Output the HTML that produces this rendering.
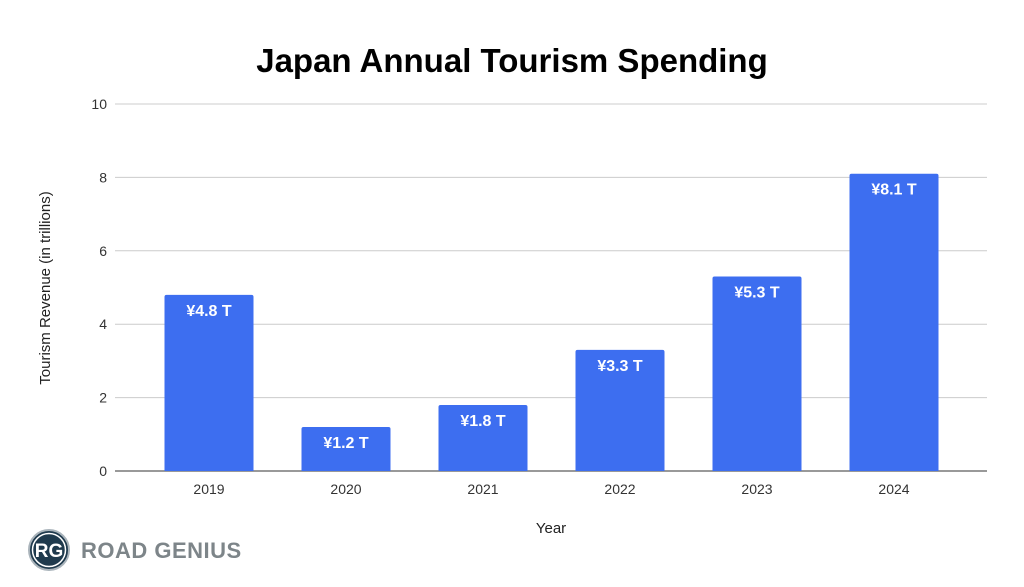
<!DOCTYPE html>
<html><head><meta charset="utf-8"><style>
body{margin:0;background:#fff;width:1024px;height:582px;overflow:hidden;font-family:"Liberation Sans",sans-serif}
</style></head><body>
<svg width="1024" height="582" xmlns="http://www.w3.org/2000/svg">
<text x="512" y="72" text-anchor="middle" font-size="33" font-weight="bold" fill="#000">Japan Annual Tourism Spending</text>
<g id="grid"></g>
<g id="bars"></g>
<text transform="translate(50,288) rotate(-90)" text-anchor="middle" font-size="15" fill="#222">Tourism Revenue (in trillions)</text>
<text x="551" y="533" text-anchor="middle" font-size="15" fill="#222">Year</text>
<g>
<circle cx="49" cy="550" r="20" fill="#1f3a4d" stroke="#aab4bb" stroke-width="2"/>
<circle cx="49" cy="550" r="16.5" fill="none" stroke="#fff" stroke-width="1.5"/>
<text x="49" y="557" text-anchor="middle" font-size="19" font-weight="bold" fill="#fff">RG</text>
<text x="81" y="558" font-size="22" font-weight="bold" fill="#7d8589" letter-spacing="0.5">ROAD GENIUS</text>
</g>
</svg>
<script>
const categories=["2019","2020","2021","2022","2023","2024"];
const values=[4.8,1.2,1.8,3.3,5.3,8.1];
const valueLabels=["¥4.8 T","¥1.2 T","¥1.8 T","¥3.3 T","¥5.3 T","¥8.1 T"];
const yTicks=[0,2,4,6,8,10];
const NS="http://www.w3.org/2000/svg";
const y0=471,y1=104,yMax=10,bandL=140.5,bandW=137,barW=89;
const yScale=v=>y0-(y0-y1)*v/yMax;
const xCenter=i=>bandL+bandW*(i+0.5);
function mk(t,a,p){const e=document.createElementNS(NS,t);for(const k in a)e.setAttribute(k,a[k]);p.appendChild(e);return e;}
const grid=document.getElementById('grid');
yTicks.forEach(t=>{const y=yScale(t);
const l=mk('line',{x1:115,x2:987,y1:y,y2:y,stroke:t===0?'#333':'#ccc','stroke-width':1},grid);


const tx=mk('text',{x:107,y:y+5,'text-anchor':'end','font-size':14,fill:'#333'},grid);tx.textContent=t;

});
const bars=document.getElementById('bars');
values.forEach((v,i)=>{const cx=xCenter(i),top=yScale(v);
const r=mk('path',{d:`M${cx-barW/2},${y0}V${top+2}Q${cx-barW/2},${top} ${cx-barW/2+2},${top}H${cx+barW/2-2}Q${cx+barW/2},${top} ${cx+barW/2},${top+2}V${y0}Z`,fill:'#3d6ef0'},bars);


const lb=mk('text',{x:cx,y:top+21,'text-anchor':'middle','font-size':16,'font-weight':'bold',fill:'#fff'},bars);lb.textContent=valueLabels[i];


const xl=mk('text',{x:cx,y:494,'text-anchor':'middle','font-size':14,fill:'#333'},bars);xl.textContent=categories[i];

});
</script>
</body></html>
